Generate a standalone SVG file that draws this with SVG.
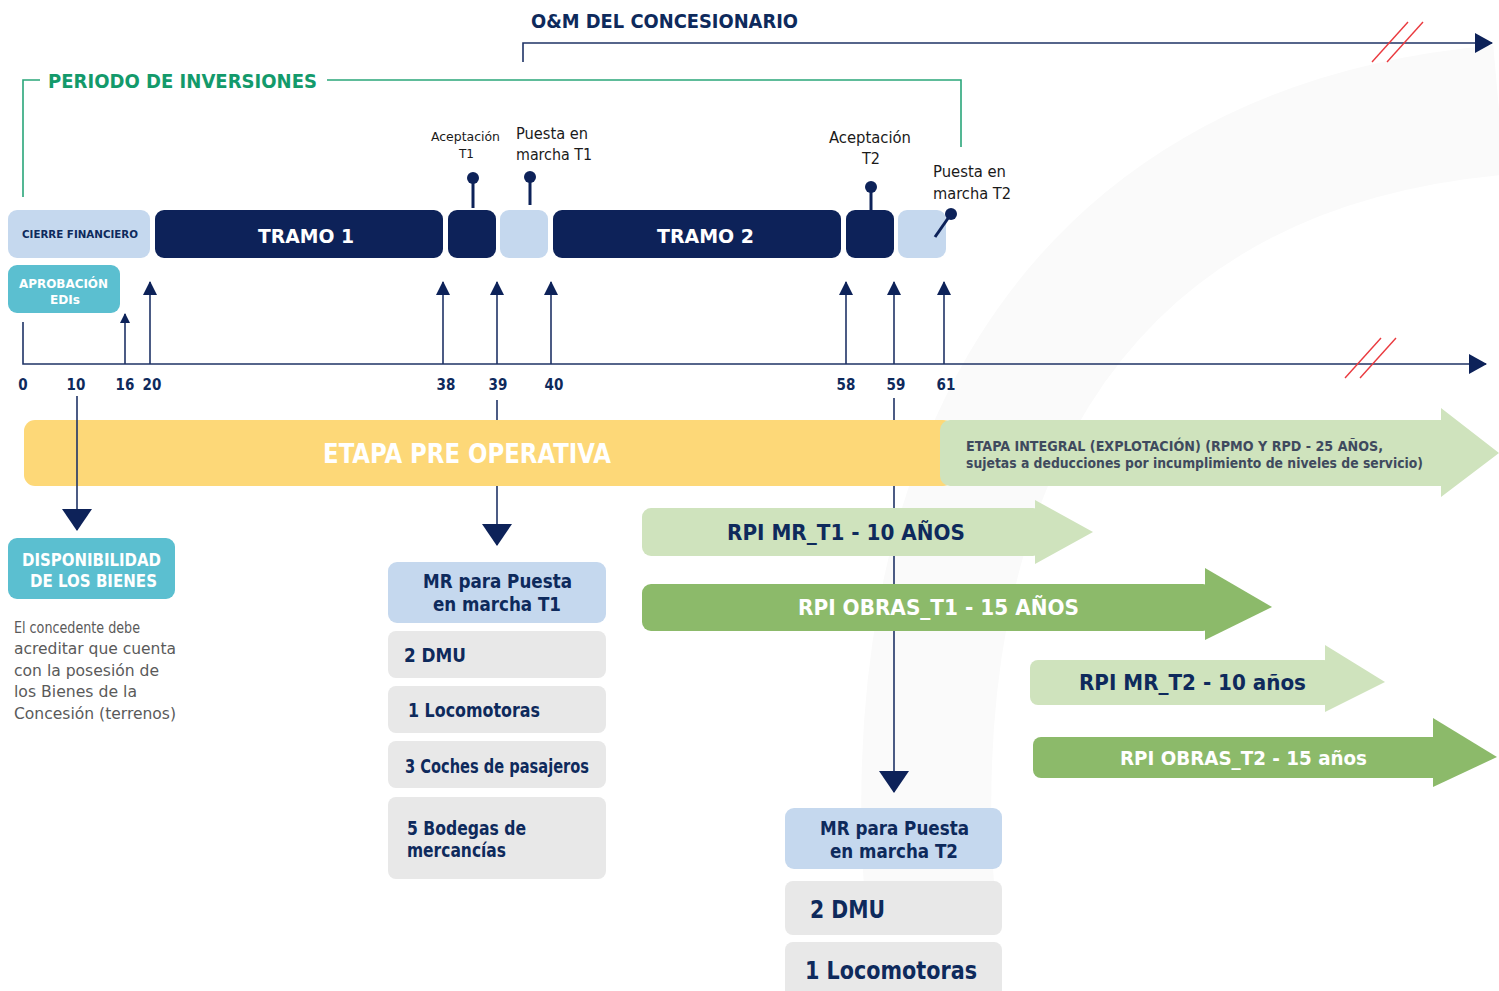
<svg xmlns="http://www.w3.org/2000/svg" width="1499" height="991" viewBox="0 0 1499 991">
<style>
.t{font-family:"DejaVu Sans Condensed","Liberation Sans Narrow","Liberation Sans",sans-serif;font-weight:bold}
.n{font-family:"DejaVu Sans Condensed","Liberation Sans Narrow","Liberation Sans",sans-serif;font-weight:normal}
.navy{fill:#0d2259}
.lb{fill:#c5d8ee}
.teal{fill:#5bbfd0}
.gray{fill:#e8e8e8}
.lg{fill:#cfe3bd}
.dg{fill:#8cba6a}
.ln{stroke:#1f3366;stroke-width:1.6;fill:none}
.red{stroke:#ea3a3f;stroke-width:1.4}
.tn{fill:#0e2a5c}
.tw{fill:#ffffff}
</style>
<defs>
<marker id="ah" markerUnits="userSpaceOnUse" markerWidth="14" markerHeight="14" refX="13" refY="7" orient="auto"><path d="M0,0 L14,7 L0,14 Z" fill="#0d2259"/></marker>
<marker id="ahs" markerUnits="userSpaceOnUse" markerWidth="10" markerHeight="10" refX="9" refY="5" orient="auto"><path d="M0,0 L10,5 L0,10 Z" fill="#0d2259"/></marker>
<marker id="ahr" markerUnits="userSpaceOnUse" markerWidth="18" markerHeight="20" refX="17" refY="10" orient="auto"><path d="M0,0 L18,10 L0,20 Z" fill="#0d2259"/></marker>
<marker id="ahb" markerUnits="userSpaceOnUse" markerWidth="22" markerHeight="30" refX="21" refY="15" orient="auto"><path d="M0,0 L22,15 L0,30 Z" fill="#0d2259"/></marker>
</defs>
<rect width="1499" height="991" fill="#ffffff"/>
<g id="watermark" fill="none" stroke="#fafafa" stroke-width="130">
<path d="M930,900 C900,500 1050,150 1499,110"/>
</g>
<g id="om">
<text class="t tn" x="531" y="28" font-size="20" textLength="267" lengthAdjust="spacingAndGlyphs">O&amp;M DEL CONCESIONARIO</text>
</g>
<g id="periodo">
<text class="t" fill="#139a6b" x="48" y="88" font-size="20" textLength="269" lengthAdjust="spacingAndGlyphs">PERIODO DE INVERSIONES</text>
<path d="M23,197 V80 H40 M327,80 H961 V147" stroke="#2aa67a" stroke-width="1.6" fill="none"/>
</g>
<g id="cierre"><rect class="lb" x="8" y="210" width="142" height="48" rx="9"/><text class="t tn" x="22" y="238" font-size="11" textLength="116" lengthAdjust="spacingAndGlyphs">CIERRE FINANCIERO</text></g>
<g id="tramo1"><rect class="navy" x="155" y="210" width="288" height="48" rx="9"/><text class="t tw" x="258" y="243" font-size="20" textLength="96" lengthAdjust="spacingAndGlyphs">TRAMO 1</text></g>
<g id="acep1"><rect class="navy" x="448" y="210" width="48" height="48" rx="9"/></g>
<g id="pem1"><rect class="lb" x="500" y="210" width="48" height="48" rx="9"/></g>
<g id="tramo2"><rect class="navy" x="553" y="210" width="288" height="48" rx="9"/><text class="t tw" x="657" y="243" font-size="20" textLength="97" lengthAdjust="spacingAndGlyphs">TRAMO 2</text></g>
<g id="acep2"><rect class="navy" x="846" y="210" width="48" height="48" rx="9"/></g>
<g id="pem2"><rect class="lb" x="898" y="210" width="48" height="48" rx="9"/></g>
<g id="aprob"><rect class="teal" x="8" y="265" width="112" height="48" rx="9"/>
<text class="t tw" x="19" y="288" font-size="13" textLength="89" lengthAdjust="spacingAndGlyphs">APROBACIÓN</text>
<text class="t tw" x="50" y="304" font-size="13" textLength="30" lengthAdjust="spacingAndGlyphs">EDIs</text></g>
<g id="lbl-acep1"><text class="n" fill="#1a1a1a" x="431" y="141" font-size="13" textLength="69" lengthAdjust="spacingAndGlyphs">Aceptación</text><text class="n" fill="#1a1a1a" x="459" y="158" font-size="13" textLength="15" lengthAdjust="spacingAndGlyphs">T1</text>
<line x1="473" y1="178" x2="473" y2="208" stroke="#0d2259" stroke-width="3"/><circle cx="473" cy="178" r="6" fill="#0d2259"/></g>
<g id="lbl-pem1"><text class="n" fill="#1a1a1a" x="516" y="139" font-size="16" textLength="72" lengthAdjust="spacingAndGlyphs">Puesta en</text><text class="n" fill="#1a1a1a" x="516" y="160" font-size="16" textLength="76" lengthAdjust="spacingAndGlyphs">marcha T1</text>
<line x1="530" y1="177" x2="530" y2="205" stroke="#0d2259" stroke-width="3"/><circle cx="530" cy="177" r="6" fill="#0d2259"/></g>
<g id="lbl-acep2"><text class="n" fill="#1a1a1a" x="829" y="143" font-size="16" textLength="82" lengthAdjust="spacingAndGlyphs">Aceptación</text><text class="n" fill="#1a1a1a" x="862" y="164" font-size="16" textLength="18" lengthAdjust="spacingAndGlyphs">T2</text>
<line x1="871" y1="187" x2="871" y2="210" stroke="#0d2259" stroke-width="3"/><circle cx="871" cy="187" r="6" fill="#0d2259"/></g>
<g id="lbl-pem2"><text class="n" fill="#1a1a1a" x="933" y="177" font-size="16" textLength="73" lengthAdjust="spacingAndGlyphs">Puesta en</text><text class="n" fill="#1a1a1a" x="933" y="199" font-size="16" textLength="78" lengthAdjust="spacingAndGlyphs">marcha T2</text>
<line x1="951" y1="214" x2="935" y2="237" stroke="#0d2259" stroke-width="3"/><circle cx="951" cy="214" r="6" fill="#0d2259"/></g>
<g id="axis-labels" class="t tn" font-size="15" text-anchor="middle">
<text x="23" y="390">0</text><text x="76" y="390">10</text><text x="125" y="390">16</text><text x="152" y="390">20</text>
<text x="446" y="390">38</text><text x="498" y="390">39</text><text x="554" y="390">40</text>
<text x="846" y="390">58</text><text x="896" y="390">59</text><text x="946" y="390">61</text>
</g>
<g id="pre-operativa"><rect x="24" y="420" width="930" height="66" rx="11" fill="#fdd878"/>
<text class="t tw" x="323" y="463" font-size="26" textLength="288" lengthAdjust="spacingAndGlyphs">ETAPA PRE OPERATIVA</text></g>
<g id="integral"><path class="lg" d="M950,420 H1441 V408 L1499,453 L1441,497 V486 H950 A10,10 0 0 1 940,476 V430 A10,10 0 0 1 950,420 Z"/>
<text class="t" fill="#3f4a5e" x="966" y="451" font-size="14" textLength="417" lengthAdjust="spacingAndGlyphs">ETAPA INTEGRAL (EXPLOTACIÓN) (RPMO Y RPD - 25 AÑOS,</text>
<text class="t" fill="#3f4a5e" x="966" y="468" font-size="14" textLength="457" lengthAdjust="spacingAndGlyphs">sujetas a deducciones por incumplimiento de niveles de servicio)</text></g>
<g id="disp"><rect class="teal" x="8" y="538" width="167" height="61" rx="9"/>
<text class="t tw" x="22" y="566" font-size="17" textLength="139" lengthAdjust="spacingAndGlyphs">DISPONIBILIDAD</text>
<text class="t tw" x="30" y="587" font-size="17" textLength="127" lengthAdjust="spacingAndGlyphs">DE LOS BIENES</text>
<g class="n" fill="#5a5a5a" font-size="16">
<text x="14" y="633" textLength="126" lengthAdjust="spacingAndGlyphs">El concedente debe</text>
<text x="14" y="654" textLength="162" lengthAdjust="spacingAndGlyphs">acreditar que cuenta</text>
<text x="14" y="676" textLength="145" lengthAdjust="spacingAndGlyphs">con la posesión de</text>
<text x="14" y="697" textLength="123" lengthAdjust="spacingAndGlyphs">los Bienes de la</text>
<text x="14" y="719" textLength="162" lengthAdjust="spacingAndGlyphs">Concesión (terrenos)</text>
</g></g>
<g id="mr-t1">
<rect class="lb" x="388" y="562" width="218" height="61" rx="9"/>
<text class="t tn" x="423" y="588" font-size="19" textLength="149" lengthAdjust="spacingAndGlyphs">MR para Puesta</text>
<text class="t tn" x="433" y="611" font-size="19" textLength="128" lengthAdjust="spacingAndGlyphs">en marcha T1</text>
<rect class="gray" x="388" y="631" width="218" height="47" rx="8"/>
<text class="t tn" x="404" y="662" font-size="19" textLength="62" lengthAdjust="spacingAndGlyphs">2 DMU</text>
<rect class="gray" x="388" y="686" width="218" height="47" rx="8"/>
<text class="t tn" x="408" y="717" font-size="19" textLength="132" lengthAdjust="spacingAndGlyphs">1 Locomotoras</text>
<rect class="gray" x="388" y="741" width="218" height="47" rx="8"/>
<text class="t tn" x="405" y="773" font-size="19" textLength="184" lengthAdjust="spacingAndGlyphs">3 Coches de pasajeros</text>
<rect class="gray" x="388" y="797" width="218" height="82" rx="8"/>
<text class="t tn" x="407" y="835" font-size="19" textLength="119" lengthAdjust="spacingAndGlyphs">5 Bodegas de</text>
<text class="t tn" x="407" y="857" font-size="19" textLength="99" lengthAdjust="spacingAndGlyphs">mercancías</text>
</g>
<g id="connectors">
<path class="ln" d="M523,62 V43 H1492" marker-end="url(#ahr)"/>
<line class="red" x1="1372" y1="62" x2="1408" y2="22"/><line class="red" x1="1387" y1="62" x2="1423" y2="22"/>
<path class="ln" d="M23,322 V364 H1486" marker-end="url(#ahr)"/>
<line class="red" x1="1345" y1="378" x2="1381" y2="338"/><line class="red" x1="1360" y1="378" x2="1396" y2="338"/>
<line class="ln" x1="125" y1="364" x2="125" y2="314" marker-end="url(#ahs)"/>
<line class="ln" x1="150" y1="364" x2="150" y2="282" marker-end="url(#ah)"/>
<line class="ln" x1="443" y1="364" x2="443" y2="282" marker-end="url(#ah)"/>
<line class="ln" x1="497" y1="364" x2="497" y2="282" marker-end="url(#ah)"/>
<line class="ln" x1="551" y1="364" x2="551" y2="282" marker-end="url(#ah)"/>
<line class="ln" x1="846" y1="364" x2="846" y2="282" marker-end="url(#ah)"/>
<line class="ln" x1="894" y1="364" x2="894" y2="282" marker-end="url(#ah)"/>
<line class="ln" x1="944" y1="364" x2="944" y2="282" marker-end="url(#ah)"/>
<line class="ln" x1="77" y1="396" x2="77" y2="530" marker-end="url(#ahb)"/>
<line class="ln" x1="497" y1="400" x2="497" y2="420"/>
<line class="ln" x1="497" y1="486" x2="497" y2="545" marker-end="url(#ahb)"/>
<line class="ln" x1="894" y1="398" x2="894" y2="420"/>
<line class="ln" x1="894" y1="486" x2="894" y2="508"/>
<line class="ln" x1="894" y1="556" x2="894" y2="584"/>
<line class="ln" x1="894" y1="631" x2="894" y2="792" marker-end="url(#ahb)"/>
</g>
<g id="rpi-mr-t1"><rect class="lg" x="642" y="508" width="400" height="48" rx="9"/><path class="lg" d="M1035,500 L1093,532 L1035,564 Z"/>
<text class="t tn" x="727" y="540" font-size="22" textLength="238" lengthAdjust="spacingAndGlyphs">RPI MR_T1 - 10 AÑOS</text></g>
<g id="rpi-obras-t1"><rect class="dg" x="642" y="584" width="570" height="47" rx="9"/><path class="dg" d="M1205,568 L1272,607 L1205,640 Z"/>
<text class="t tw" x="798" y="615" font-size="22" textLength="281" lengthAdjust="spacingAndGlyphs">RPI OBRAS_T1 - 15 AÑOS</text></g>
<g id="rpi-mr-t2"><rect class="lg" x="1030" y="660" width="302" height="45" rx="8"/><path class="lg" d="M1325,645 L1385,682 L1325,712 Z"/>
<text class="t tn" x="1079" y="690" font-size="22" textLength="227" lengthAdjust="spacingAndGlyphs">RPI MR_T2 - 10 años</text></g>
<g id="rpi-obras-t2"><rect class="dg" x="1033" y="737" width="408" height="41" rx="8"/><path class="dg" d="M1433,718 L1497,757 L1433,787 Z"/>
<text class="t tw" x="1120" y="765" font-size="20" textLength="247" lengthAdjust="spacingAndGlyphs">RPI OBRAS_T2 - 15 años</text></g>
<g id="mr-t2">
<rect class="lb" x="785" y="808" width="217" height="61" rx="9"/>
<text class="t tn" x="820" y="835" font-size="19" textLength="149" lengthAdjust="spacingAndGlyphs">MR para Puesta</text>
<text class="t tn" x="830" y="858" font-size="19" textLength="128" lengthAdjust="spacingAndGlyphs">en marcha T2</text>
<rect class="gray" x="785" y="881" width="217" height="54" rx="8"/>
<text class="t tn" x="810" y="918" font-size="24" textLength="75" lengthAdjust="spacingAndGlyphs">2 DMU</text>
<rect class="gray" x="785" y="942" width="217" height="60" rx="8"/>
<text class="t tn" x="805" y="979" font-size="24" textLength="172" lengthAdjust="spacingAndGlyphs">1 Locomotoras</text>
</g>
</svg>
